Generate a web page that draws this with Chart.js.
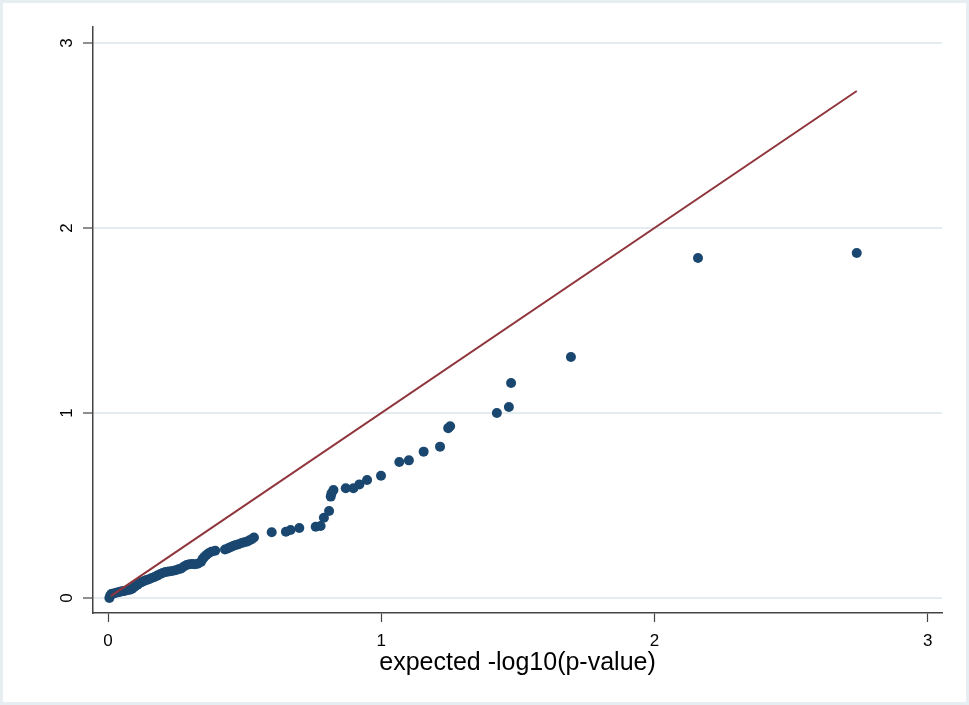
<!DOCTYPE html>
<html>
<head>
<meta charset="utf-8">
<script src="https://cdn.jsdelivr.net/npm/chart.js@4.4.1/dist/chart.umd.min.js"></script>
<style>
  html, body { margin: 0; padding: 0; background: #ffffff; }
  canvas { display: block; }
</style>
</head>
<body>
<canvas id="c" width="969" height="705"></canvas>
<script>
// ---- data ----
const expectedX = [
  0.005, 0.008, 0.012, 0.020, 0.030, 0.040, 0.050, 0.060, 0.070, 0.080,
  0.088, 0.095, 0.100, 0.108, 0.115, 0.123, 0.132, 0.141, 0.150, 0.160,
  0.170, 0.180, 0.190, 0.200, 0.210, 0.222, 0.235, 0.247, 0.258, 0.268,
  0.278, 0.288, 0.298, 0.308, 0.318, 0.328, 0.340, 0.346, 0.352, 0.360,
  0.368, 0.378, 0.392, 0.428, 0.438, 0.448, 0.458, 0.468, 0.478, 0.489,
  0.499, 0.510, 0.518, 0.526, 0.534, 0.599, 0.651, 0.668, 0.700, 0.760,
  0.778, 0.790, 0.809, 0.815, 0.818, 0.825, 0.870, 0.898, 0.920, 0.948,
  0.999, 1.066, 1.101, 1.155, 1.215, 1.245, 1.252, 1.423, 1.467, 1.475,
  1.694, 2.159, 2.740
];
const observedY = [
  0.000, 0.012, 0.022, 0.025, 0.028, 0.032, 0.036, 0.038, 0.042, 0.045,
  0.050, 0.058, 0.065, 0.072, 0.080, 0.086, 0.092, 0.097, 0.102, 0.108,
  0.114, 0.121, 0.128, 0.135, 0.140, 0.143, 0.146, 0.150, 0.155, 0.160,
  0.170, 0.178, 0.182, 0.184, 0.182, 0.185, 0.195, 0.210, 0.222, 0.232,
  0.242, 0.250, 0.256, 0.262, 0.268, 0.275, 0.281, 0.287, 0.291, 0.297,
  0.301, 0.306, 0.312, 0.318, 0.327, 0.355, 0.358, 0.368, 0.378, 0.385,
  0.389, 0.434, 0.470, 0.548, 0.566, 0.584, 0.593, 0.593, 0.614, 0.638,
  0.661, 0.735, 0.744, 0.791, 0.818, 0.918, 0.928, 1.000, 1.032, 1.162,
  1.303, 1.838, 1.865
];
// reference line y = x, endpoints
const refLineX = [0.01, 2.74];
const refLineY = [0.01, 2.74];
const tickValues = [0, 1, 2, 3];
const xTitle = 'expected -log10(p-value)';

const scatterPoints = expectedX.map((x, i) => ({ x: x, y: observedY[i] }));
const linePoints = refLineX.map((x, i) => ({ x: x, y: refLineY[i] }));

const frame = {
  id: 'frame',
  beforeDraw(chart) {
    const ctx = chart.ctx;
    ctx.save();
    ctx.fillStyle = '#ffffff';
    ctx.fillRect(0, 0, chart.width, chart.height);
    ctx.strokeStyle = '#e6eef1';
    ctx.lineWidth = 3;
    ctx.strokeRect(1.5, 1.5, chart.width - 3, chart.height - 3);
    ctx.restore();
  }
};

const setTicks = (scale) => {
  scale.ticks = tickValues.map(v => ({ value: v }));
};

new Chart(document.getElementById('c'), {
  type: 'scatter',
  data: {
    datasets: [
      {
        type: 'line',
        data: linePoints,
        borderColor: '#90353b',
        borderWidth: 2,
        pointRadius: 0,
        fill: false,
        showLine: true
      },
      {
        type: 'scatter',
        data: scatterPoints,
        backgroundColor: '#1a476f',
        borderColor: '#1a476f',
        borderWidth: 0,
        pointRadius: 5,
        pointHoverRadius: 5
      }
    ]
  },
  options: {
    responsive: false,
    animation: false,
    devicePixelRatio: 1,
    layout: { padding: { top: 27, right: 27, left: 0, bottom: 0 } },
    plugins: {
      legend: { display: false },
      tooltip: { enabled: false }
    },
    scales: {
      x: {
        type: 'linear',
        min: -0.055,
        max: 3.052,
        afterBuildTicks: setTicks,
        afterFit: (s) => { s.height = 92; },
        grid: {
          drawOnChartArea: false,
          drawTicks: true,
          tickLength: 9,
          tickColor: '#444',
          tickWidth: 1.2
        },
        border: { display: true, color: '#444', width: 1.5 },
        ticks: {
          padding: 9,
          color: '#000',
          font: { family: 'Liberation Sans, Arial, sans-serif', size: 17 },
          maxRotation: 0,
          minRotation: 0,
          callback: (v) => String(v)
        },
        title: {
          display: true,
          text: xTitle,
          color: '#000',
          font: { family: 'Liberation Sans, Arial, sans-serif', size: 25 },
          padding: { top: 0, bottom: 27 }
        }
      },
      y: {
        type: 'linear',
        min: -0.081,
        max: 3.086,
        afterBuildTicks: setTicks,
        afterFit: (s) => { s.width = 93; },
        grid: {
          color: '#e4ecef',
          lineWidth: 2,
          drawTicks: true,
          tickLength: 10,
          tickColor: '#444',
          tickWidth: 1.2
        },
        border: { display: true, color: '#444', width: 1.5 },
        ticks: {
          padding: 11,
          color: '#000',
          crossAlign: 'center',
          minRotation: 90,
          maxRotation: 90,
          font: { family: 'Liberation Sans, Arial, sans-serif', size: 17 },
          callback: (v) => String(v)
        }
      }
    }
  },
  plugins: [frame]
});
</script>
</body>
</html>
